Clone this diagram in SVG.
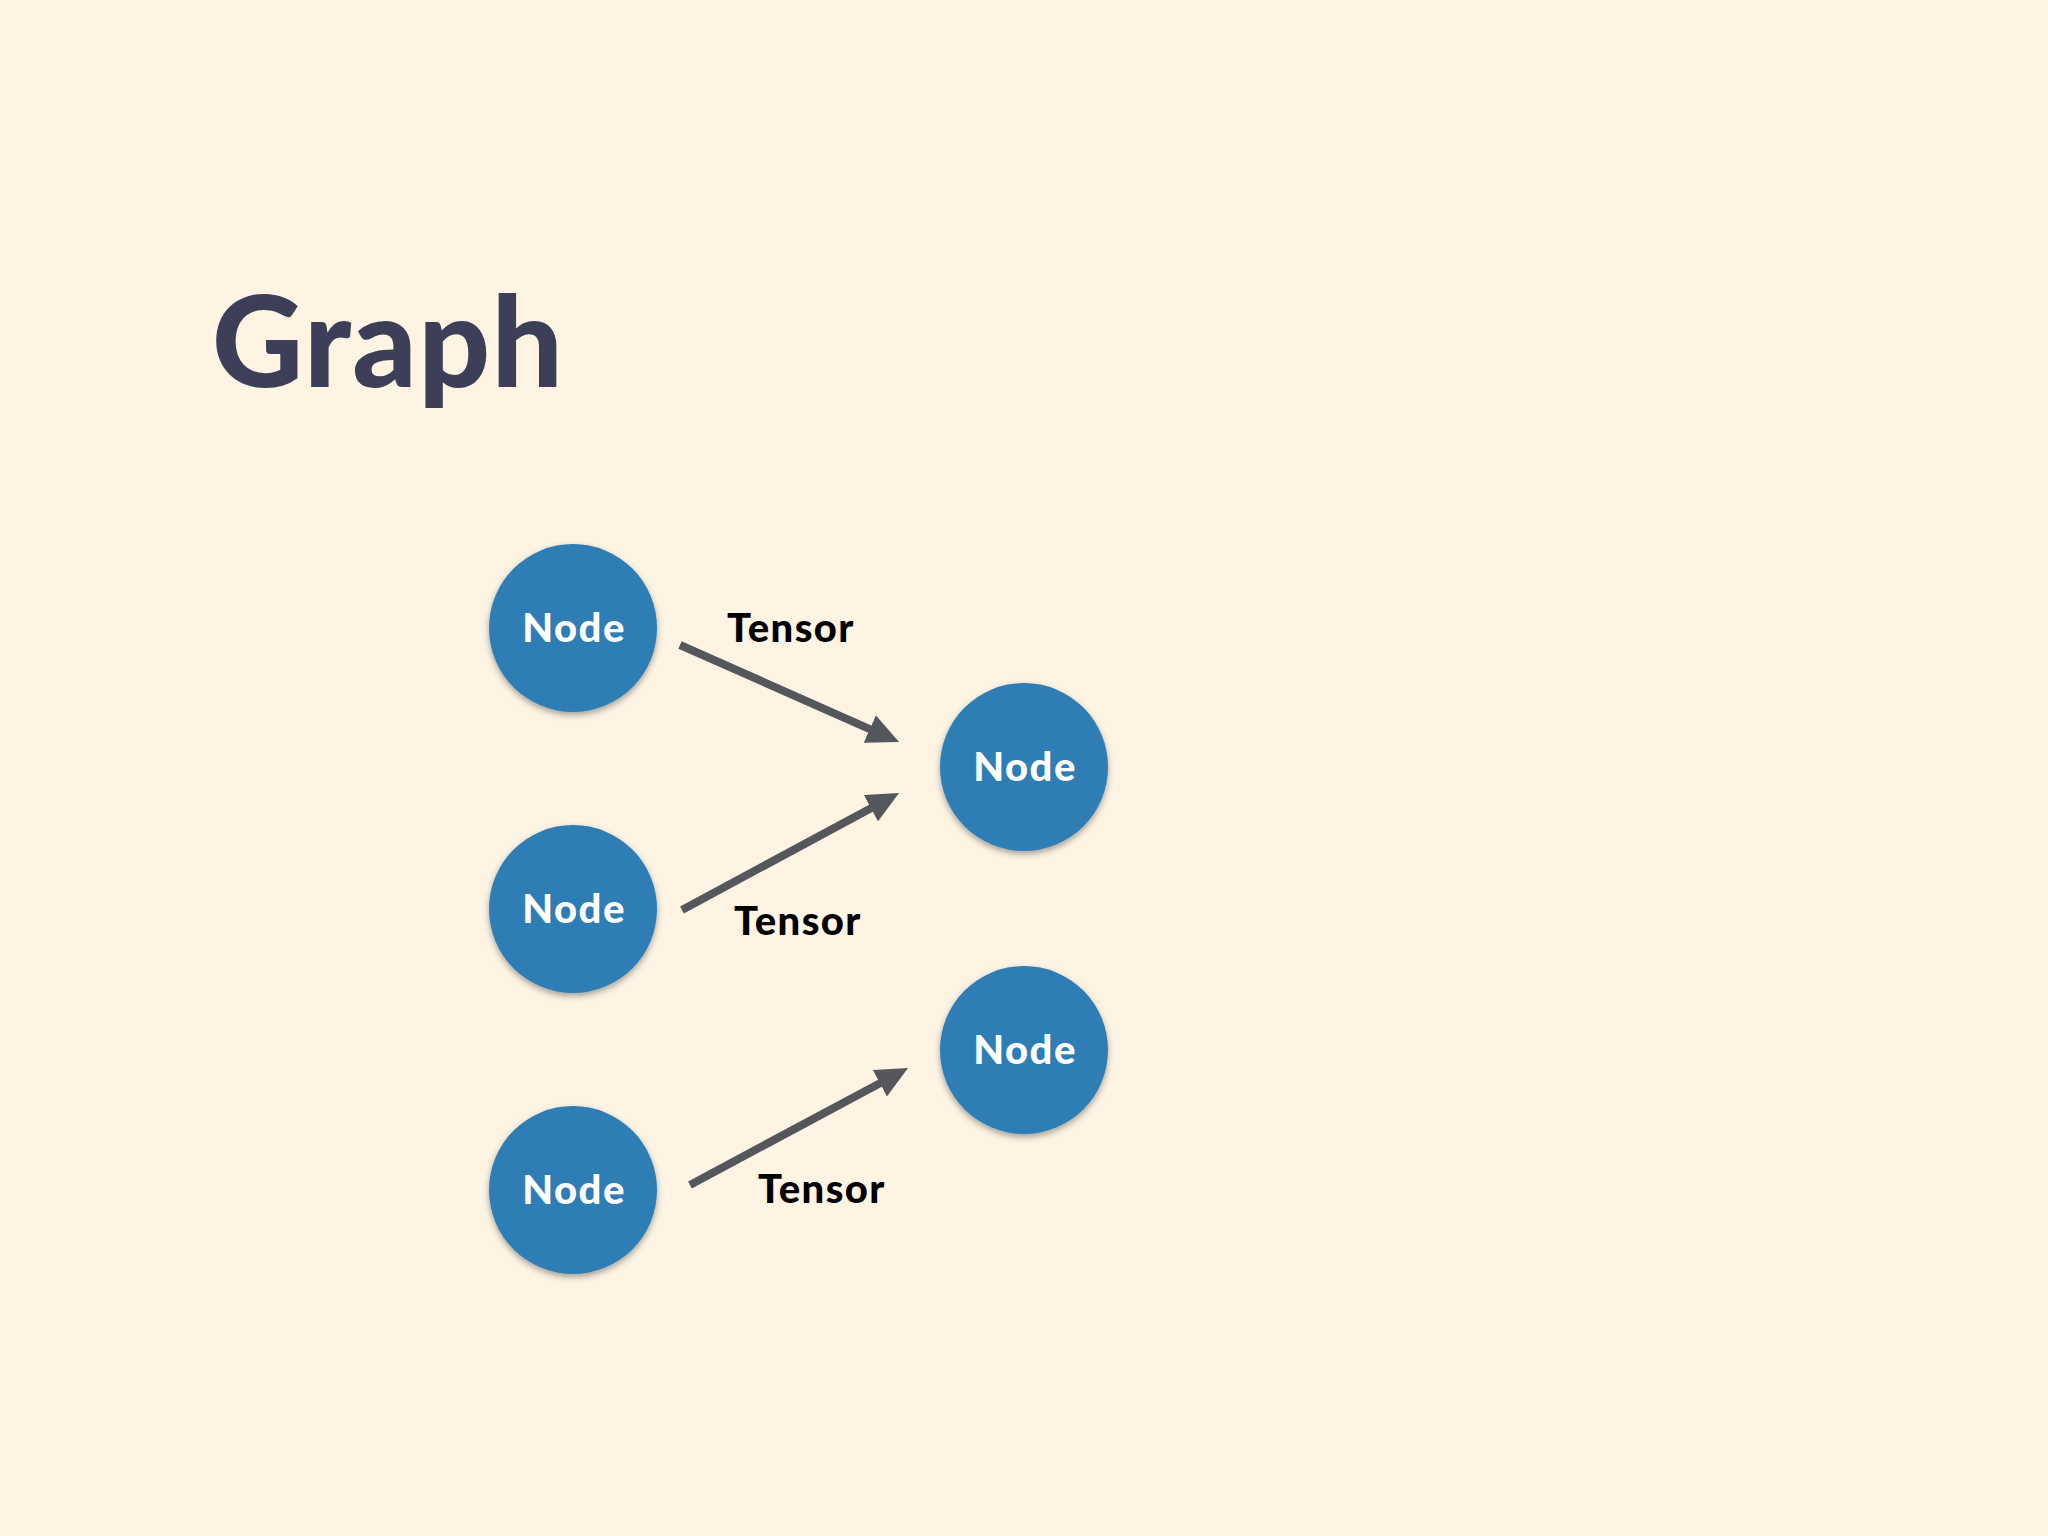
<svg xmlns="http://www.w3.org/2000/svg" width="2048" height="1536" viewBox="0 0 2048 1536">
<defs>
<filter id="sh" x="-20%" y="-20%" width="140%" height="150%">
<feDropShadow dx="0" dy="3" stdDeviation="3" flood-color="#000" flood-opacity="0.35"/>
</filter>
<marker id="ah" viewBox="0 0 32 30" refX="8" refY="15" markerWidth="32" markerHeight="30" markerUnits="userSpaceOnUse" orient="auto">
<path d="M0,0 L32,15 L0,30 z" fill="#56575c"/>
</marker>
</defs>
<style>
.node circle{fill:#2f7db5;filter:url(#sh)}
.node text{font-family:Lato,"Open Sans",sans-serif;font-weight:900;font-size:40px;letter-spacing:1.5px;fill:#fff;text-anchor:middle}
.edge{stroke:#56575c;stroke-width:8;fill:none;marker-end:url(#ah)}
.lbl{font-family:Lato,"Open Sans",sans-serif;font-weight:900;font-size:40px;letter-spacing:1.4px;fill:#000}
</style>
<rect width="2048" height="1536" fill="#fdf4e4"/>
<text x="212" y="387" font-family="Lato,'Open Sans',sans-serif" font-weight="900" font-size="126" letter-spacing="1.5" fill="#3d3e57">Graph</text>
<g id="connectors">
<line class="edge" x1="680" y1="645" x2="877.1" y2="732.3"/>
<line class="edge" x1="682" y1="910" x2="877.9" y2="804.4"/>
<line class="edge" x1="690" y1="1185" x2="886.9" y2="1079.4"/>
<text class="lbl" x="727" y="642">Tensor</text>
<text class="lbl" x="734" y="935">Tensor</text>
<text class="lbl" x="758" y="1203">Tensor</text>
</g>
<g id="n1" class="node"><circle cx="573" cy="628" r="84"/><text x="574" y="642">Node</text></g>
<g id="n2" class="node"><circle cx="573" cy="909" r="84"/><text x="574" y="923">Node</text></g>
<g id="n3" class="node"><circle cx="573" cy="1190" r="84"/><text x="574" y="1204">Node</text></g>
<g id="n4" class="node"><circle cx="1024" cy="767" r="84"/><text x="1025" y="781">Node</text></g>
<g id="n5" class="node"><circle cx="1024" cy="1050" r="84"/><text x="1025" y="1064">Node</text></g>
</svg>
